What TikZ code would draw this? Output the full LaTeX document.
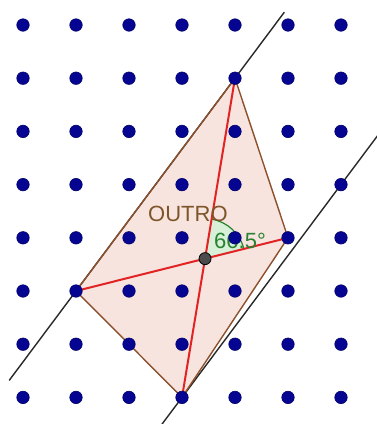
\documentclass[tikz,border=0pt]{standalone}
\usepackage{fontspec}
\setmainfont{Liberation Sans}
\usetikzlibrary{calc}
\definecolor{dotblue}{RGB}{5,5,145}
\definecolor{quadfill}{RGB}{247,228,222}
\definecolor{edgebrown}{RGB}{140,80,45}
\definecolor{linegray}{RGB}{40,40,40}
\definecolor{diagred}{RGB}{225,35,35}
\definecolor{anggreen}{RGB}{40,130,50}
\definecolor{angfill}{RGB}{215,240,215}
\definecolor{txtbrown}{RGB}{125,85,40}
\begin{document}
\begin{tikzpicture}[x=1pt,y=-1pt,
  dot/.style={circle,fill=dotblue,draw=dotblue!75!black,line width=0.6pt,inner sep=0pt,minimum size=12.5pt},
  cpt/.style={circle,fill=black!70,draw=black,line width=0.8pt,inner sep=0pt,minimum size=12pt},
  blackline/.style={draw=linegray,line width=1.4pt},
  edge/.style={draw=edgebrown,line width=1.4pt},
  diag/.style={draw=diagred,line width=2pt},
  lbl/.style={inner sep=0pt,font=\fontsize{22}{26}\selectfont}]
\useasboundingbox (0,0) rectangle (377,424);
\clip (0,0) rectangle (377,424);
\foreach \i in {0,...,6}{\foreach \j in {0,...,7}{
  \coordinate (g-\i-\j) at ({23+53*\i},{25+53.2*\j});
}}
\coordinate (E) at (intersection of g-4-1--g-3-7 and g-1-5--g-5-4);
% polygon fill
\fill[quadfill] (g-4-1) -- (g-5-4) -- (g-3-7) -- (g-1-5) -- cycle;
% parallel lines
\draw[blackline] ($(g-4-1)!-0.31!(g-1-5)$) -- ($(g-4-1)!1.42!(g-1-5)$);
\draw[blackline] ($(g-3-7)!-0.13!(g-6-3)$) -- ($(g-3-7)!1.23!(g-6-3)$);
% edges
\draw[edge] (g-4-1) -- (g-5-4) -- (g-3-7) -- (g-1-5) -- cycle;
% angle sector
\fill[angfill] (E) -- +(-80.57:40) arc[start angle=-80.57,end angle=-14.08,radius=40] -- cycle;
\draw[anggreen,line width=1.2pt] ($(E)+(-80.57:40)$) arc[start angle=-80.57,end angle=-14.08,radius=40];
% diagonals
\draw[diag] (g-4-1) -- (g-3-7);
\draw[diag] (g-1-5) -- (g-5-4);
% labels
\node[lbl,text=txtbrown,anchor=base west] (outro) at (148,221) {OUTRO};
\node[lbl,text=anggreen,anchor=base west] (ang) at (214,248) {66.5°};
% dots
\foreach \i in {0,...,6}{\foreach \j in {0,...,7}{
  \node[dot] (d-\i-\j) at (g-\i-\j) {};
}}
\node[cpt] (P) at (E) {};
\end{tikzpicture}
\end{document}
